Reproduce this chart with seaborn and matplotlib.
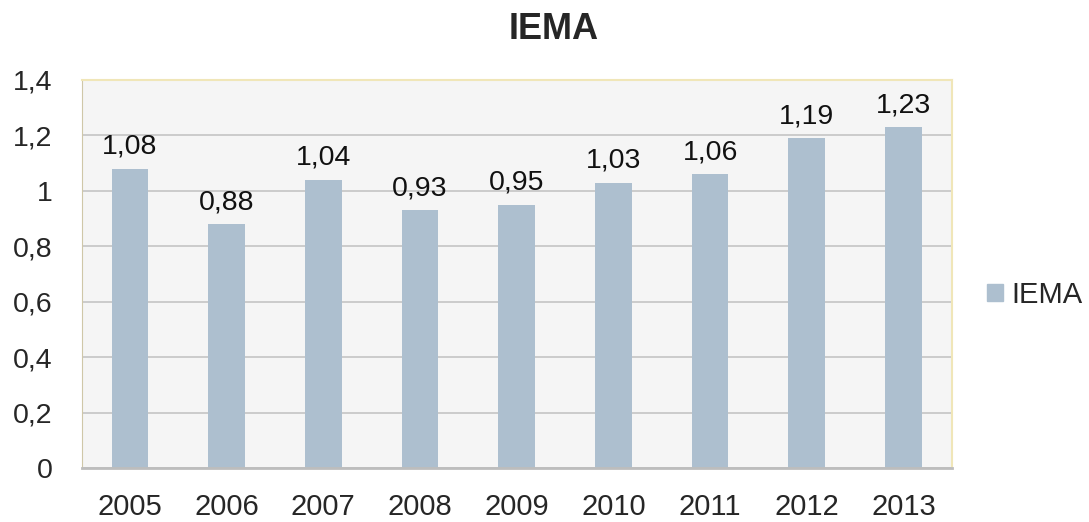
import matplotlib
matplotlib.use('Agg')
import matplotlib.pyplot as plt
import seaborn as sns
import pandas as pd
from matplotlib.patches import Patch

years = ['2005', '2006', '2007', '2008', '2009', '2010', '2011', '2012', '2013']
iema = [1.08, 0.88, 1.04, 0.93, 0.95, 1.03, 1.06, 1.19, 1.23]
yticks = [0, 0.2, 0.4, 0.6, 0.8, 1, 1.2, 1.4]

sns.set_style('white')
plt.rcParams['font.family'] = ['Liberation Sans', 'DejaVu Sans']

bar_color = '#adbfcf'
df = pd.DataFrame({'year': years, 'IEMA': iema})

fig = plt.figure(figsize=(10.89, 5.22), dpi=100)
ax = fig.add_axes([0.075, 0.103, 0.799, 0.744])
ax.set_facecolor('#f5f5f5')
ax.set_axisbelow(True)
ax.yaxis.grid(True, color='#c4c4c4', linewidth=1.2)

sns.barplot(data=df, x='year', y='IEMA', color=bar_color, width=0.38,
            saturation=1, linewidth=0, ax=ax)

for i, v in enumerate(iema):
    ax.text(i, v + 0.054, f'{v:.2f}'.replace('.', ','), ha='center', va='baseline',
            fontsize=20.5, color='#111111')

ax.set_ylim(0, 1.4)
ax.set_yticks(yticks)
ax.set_yticklabels([str(t).replace('.', ',') for t in yticks], fontsize=20.5)
ax.tick_params(axis='x', labelsize=21, length=0, pad=18)
ax.tick_params(axis='y', length=0, pad=21)
ax.set_xlabel('')
ax.set_ylabel('')

for s in ['top', 'right']:
    ax.spines[s].set_color('#f0e6b8')
    ax.spines[s].set_linewidth(1.5)
ax.spines['left'].set_color('#cfc7a8')
ax.spines['bottom'].set_color('#bdbdbd')
ax.spines['bottom'].set_linewidth(2)

fig.text(0.508, 0.943, 'IEMA', ha='center', va='center', fontsize=26, fontweight='bold')

fig.legend(handles=[Patch(color=bar_color, label='IEMA')], loc='center left',
           bbox_to_anchor=(0.906, 0.435), frameon=False, fontsize=21,
           borderpad=0, borderaxespad=0,
           handlelength=0.55, handleheight=0.55, handletextpad=0.3)

fig.savefig('out.png', dpi=100)
